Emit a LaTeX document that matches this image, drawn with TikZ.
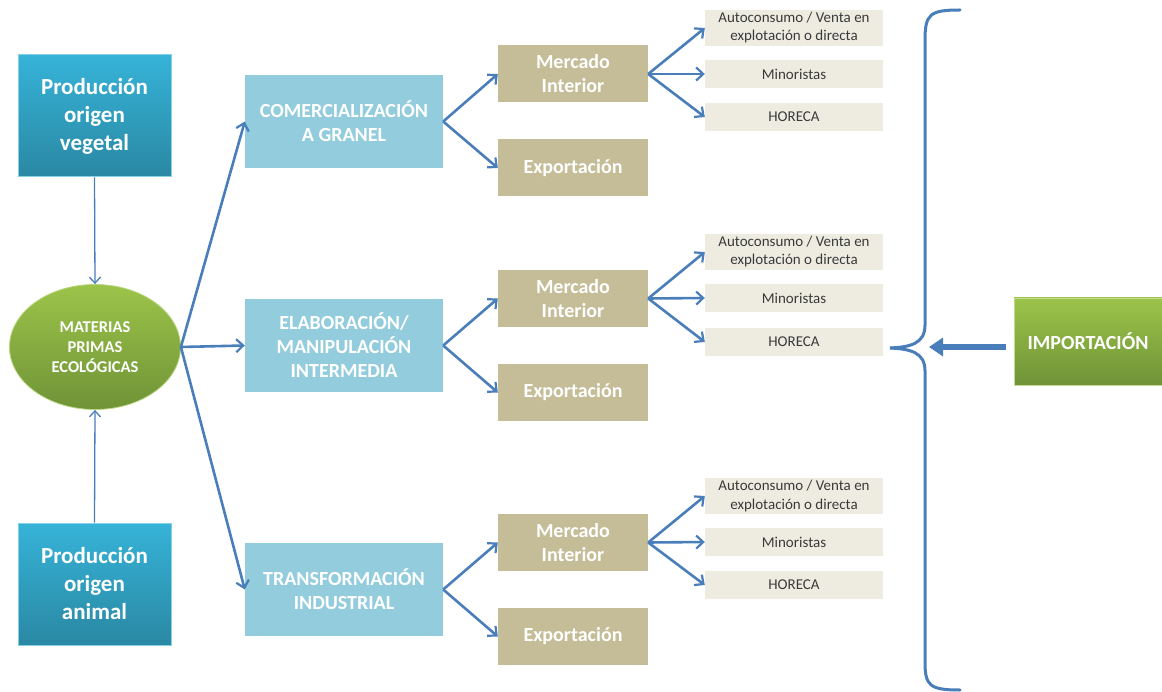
\documentclass[tikz,border=0pt]{standalone}
\usepackage{fontspec}
\setmainfont{Carlito}
\usetikzlibrary{arrows.meta,shapes.geometric}
\definecolor{arr}{HTML}{4A7EBB}
\definecolor{prodtop}{HTML}{36B3D8}
\definecolor{prodbot}{HTML}{2A88A3}
\definecolor{lblue}{HTML}{93CDDD}
\definecolor{tan}{HTML}{C4BD97}
\definecolor{light}{HTML}{EEECE1}
\definecolor{gtop}{HTML}{9CC44A}
\definecolor{gbot}{HTML}{6F9337}
\definecolor{txtgray}{HTML}{3A3A3A}
\tikzset{
  prodbox/.style={rectangle, draw=prodtop!60!white, line width=1pt, top color=prodtop, bottom color=prodbot,
    minimum width=153pt, minimum height=122pt, align=center, text=white,
    font=\fontsize{23}{28}\selectfont\bfseries},
  procbox/.style={rectangle, fill=lblue, minimum width=198pt, minimum height=93pt, align=center, text=white,
    font=\fontsize{20}{24}\selectfont\bfseries},
  mktbox/.style={rectangle, fill=tan, minimum width=150pt, minimum height=57pt, align=center, text=white,
    font=\fontsize{20}{24}\selectfont\bfseries},
  chbox/.style={rectangle, fill=light, minimum width=178pt, minimum height=28pt, align=center, text=txtgray,
    font=\fontsize{15}{18}\selectfont},
  bigarrow/.style={draw=arr, line width=2.6pt, -{Straight Barb[length=7pt,width=13pt,line width=2.2pt]}},
  thinarrow/.style={draw=arr, line width=1.3pt, -{Straight Barb[length=6pt,width=11pt,line width=1.3pt]}},
}
\begin{document}
\begin{tikzpicture}[x=1pt,y=-1pt]
\useasboundingbox (0,0) rectangle (1162,692);

% sources
\node[prodbox] (veg) at (94.5,116) {Producción\\origen\\vegetal};
\node[prodbox] (ani) at (94.5,584) {Producción\\origen\\animal};

% ellipse
\node[ellipse, minimum width=171pt, minimum height=125pt, top color=gtop, bottom color=gbot,
  draw=gtop!70!white, line width=0.8pt, align=center, text=white, inner sep=0pt,
  font=\fontsize{16.5}{20}\selectfont\bfseries] (mp) at (95,347) {MATERIAS\\PRIMAS\\ECOLÓGICAS};

\draw[thinarrow] (veg.south) -- (mp.north);
\draw[thinarrow] (ani.north) -- (mp.south);

% process boxes
\node[procbox] (com) at (344,121.5) {COMERCIALIZACIÓN\\A GRANEL};
\node[procbox] (ela) at (344,345.5) {ELABORACIÓN/\\MANIPULACIÓN\\INTERMEDIA};
\node[procbox] (tra) at (344,589.5) {TRANSFORMACIÓN\\INDUSTRIAL};

\draw[bigarrow] (mp.east) -- (com.west);
\draw[bigarrow] (mp.east) -- (ela.west);
\draw[bigarrow] (mp.east) -- (tra.west);

% markets
\node[mktbox] (mi1) at (573,74) {Mercado\\Interior};
\node[mktbox] (ex1) at (573,168) {Exportación};
\node[mktbox] (mi2) at (573,298.5) {Mercado\\Interior};
\node[mktbox] (ex2) at (573,392.5) {Exportación};
\node[mktbox] (mi3) at (573,542.5) {Mercado\\Interior};
\node[mktbox] (ex3) at (573,636.5) {Exportación};

\draw[bigarrow] (com.east) -- (mi1.west);
\draw[bigarrow] (com.east) -- (ex1.west);
\draw[bigarrow] (ela.east) -- (mi2.west);
\draw[bigarrow] (ela.east) -- (ex2.west);
\draw[bigarrow] (tra.east) -- (mi3.west);
\draw[bigarrow] (tra.east) -- (ex3.west);

% channels
\node[chbox, minimum height=36pt, inner sep=0pt] (au1) at (794,28) {Autoconsumo / Venta en\\explotación o directa};
\node[chbox] (mn1) at (794,74) {Minoristas};
\node[chbox] (ho1) at (794,117) {HORECA};
\node[chbox, minimum height=36pt, inner sep=0pt] (au2) at (794,252) {Autoconsumo / Venta en\\explotación o directa};
\node[chbox] (mn2) at (794,298) {Minoristas};
\node[chbox] (ho2) at (794,342) {HORECA};
\node[chbox, minimum height=36pt, inner sep=0pt] (au3) at (794,496) {Autoconsumo / Venta en\\explotación o directa};
\node[chbox] (mn3) at (794,542) {Minoristas};
\node[chbox] (ho3) at (794,585) {HORECA};

\foreach \m/\a/\n/\h in {mi1/au1/mn1/ho1, mi2/au2/mn2/ho2, mi3/au3/mn3/ho3}{
  \draw[bigarrow] (\m.east) -- (\a.west);
  \draw[bigarrow] (\m.east) -- (\n.west);
  \draw[bigarrow] (\m.east) -- (\h.west);
}

% brace
\coordinate (tip) at (890,348);
\draw[arr, line width=3pt, line cap=round, line join=round]
  (960,10) .. controls (930,10) and (925,14) .. (925,40) -- (925,325);
\draw[arr, line width=3pt, line join=round]
  (925,325) .. controls (925,344) and (910,347) .. (tip);
\draw[arr, line width=3pt, line join=round]
  (tip) .. controls (910,349) and (925,352) .. (925,371);
\draw[arr, line width=3pt, line cap=round, line join=round]
  (925,371) -- (925,662) .. controls (925,686) and (930,690) .. (960,690);

% import
\node[rectangle, minimum width=148pt, minimum height=87pt, top color=gtop, bottom color=gbot,
  draw=gtop!60!white, line width=0.8pt, text=white, font=\fontsize{20}{24}\selectfont\bfseries]
  (imp) at (1088,341.5) {IMPORTACIÓN};
\coordinate (brin) at (929,347);
\draw[arr, line width=6pt, -{Triangle[length=14pt,width=18pt]}] (1006,347) -- (brin);
\end{tikzpicture}
\end{document}
